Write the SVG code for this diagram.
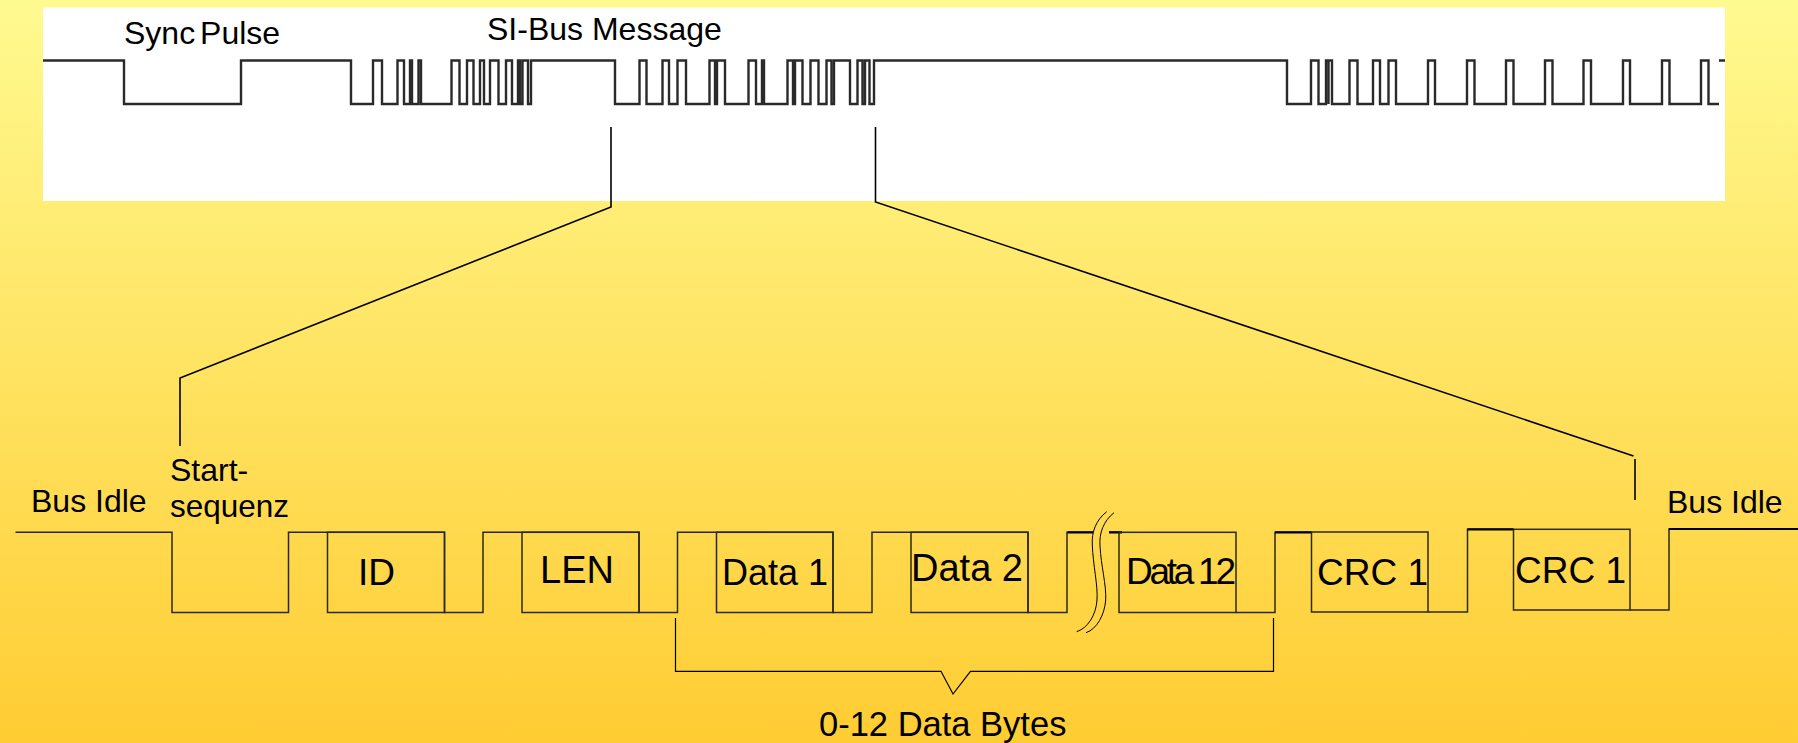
<svg xmlns="http://www.w3.org/2000/svg" width="1798" height="743" viewBox="0 0 1798 743">
<style>
text{font-family:"Liberation Sans",Arial,sans-serif;font-size:37px;fill:#000}
.s{font-size:32px}
.w{fill:none;stroke:#2a2a2a;stroke-width:2.400}
.l{fill:none;stroke:#000;stroke-width:1.600}
.b{fill:none;stroke:#2a2a1a;stroke-width:1.500}
.k{fill:none;stroke:#000;stroke-width:1.200}
.t{fill:none;stroke:#000;stroke-width:1}
</style>
<defs><linearGradient id="bg" x1="0" y1="0" x2="0" y2="1"><stop offset="0" stop-color="#FFFA90"/><stop offset="1" stop-color="#FFCC33"/></linearGradient></defs>
<rect width="1798" height="743" fill="url(#bg)"/>
<rect x="43" y="7.500" width="1682" height="193.500" fill="#fff"/>
<g id="connectors">
<path class="w" d="M43 60.500H124V104H241V60.500H351V104H373V60.500H382V104H397.500V60.500H404V104H410V60.500H412V104H418.500V60.500H421V104H451.500V60.500H459.500V104H467V60.500H473.500V104H480V60.500H484V104H490V60.500H498.500V104H506V60.500H512V104H518V60.500H520V104H522.500V60.500H528V104H531V60.500H615V104H639.500V60.500H646.500V104H662.500V60.500H669V104H677.500V60.500H686V104H709.500V60.500H715V104H717V60.500H725V104H748.500V60.500H756V104H762V60.500H764V104H787.500V60.500H793V104H795V60.500H802.500V104H810.500V60.500H818.500V104H826.500V60.500H831.500V104H834V60.500H850V104H857.500V60.500H862.500V104H865V60.500H869.500V104H874V60.500H1287V104H1311V60.500H1318.500V104H1326V60.500H1332V104H1349.500V60.500H1357.500V104H1373V60.500H1380V104H1388.500V60.500H1396V104H1428V60.500H1435V104H1467V60.500H1474.500V104H1506V60.500H1513.500V104H1545V60.500H1552.500V104H1583.500V60.500H1591V104H1623V60.500H1630V104H1662V60.500H1669.500V104H1701V60.500H1708.500V104H1719M1328.500 60.500V104M1719 60.500H1725"/>
<path class="l" d="M611 127V207L180 378V446"/>
<path class="l" d="M875.500 127V202L1633.500 456M1635 459V500"/>
<path class="b" d="M15.500 532.300H172V612.500H288.500V532.300H444.500V612.500H483V532.300H639V612.500H677.500V532.300H833V612.500H872V532.300H1028V612.500H1067V532.300H1093"/>
<path class="b" d="M1109 532.300H1122M1236 612.500H1275V532.300H1311.500M1428 612H1467.500V529.300H1513.500M1630 610H1669V529H1798"/>
<path d="M1067.500 532.300H1093M1109 532.300H1122M1275 532.300H1311.500M1467.500 529.300H1513.500M1669 529H1798" fill="none" stroke="#000" stroke-width="2.200"/>
<path class="k" d="M675.500 618V671.300H941L953 694L970.500 671.300H1273.500V618"/>
<path class="t" d="M1106.700 511.700C1096 520 1091.500 532 1092.300 545C1093 565 1098 585 1097 600C1096 615 1088 628 1076.700 631.700"/>
<path class="t" d="M1114 512.700C1103.500 521 1099 533 1100 546C1101 566 1106.500 585 1105.700 600C1104.500 615 1097 629 1086 632.700"/>
</g>
<g id="sync-pulse"><text x="124" y="44" style="font-size:32px;word-spacing:-4px">Sync Pulse</text></g>
<g id="si-bus-message"><text x="487" y="40" style="font-size:32px">SI-Bus Message</text></g>
<g id="bus-idle-left"><text class="s" x="31" y="511.500">Bus Idle</text></g>
<g id="start-sequenz"><text class="s" x="170" y="480.500">Start-</text><text x="170" y="516.500" style="font-size:31.500px">sequenz</text></g>
<g id="id"><rect class="b" x="327.500" y="532.300" width="117" height="80.200"/><text x="358" y="585">ID</text></g>
<g id="len"><rect class="b" x="522" y="532.300" width="117" height="80.200"/><text x="540" y="583" style="font-size:38px">LEN</text></g>
<g id="data-1"><rect class="b" x="716.500" y="532.300" width="116.500" height="80.200"/><text x="722" y="585" style="font-size:36px">Data 1</text></g>
<g id="data-2"><rect class="b" x="911" y="532.300" width="117" height="80.200"/><text x="911" y="581" style="font-size:38px">Data 2</text></g>
<g id="data-12"><rect class="b" x="1119" y="532.300" width="117" height="80.200"/><text x="1126" y="584" style="font-size:37px" textLength="110" lengthAdjust="spacing">Data 12</text></g>
<g id="crc-1a"><rect class="b" x="1311.500" y="532" width="116.500" height="80"/><text x="1317" y="585">CRC 1</text></g>
<g id="crc-1b"><rect class="b" x="1513.500" y="529.300" width="116.500" height="80.700"/><text x="1515" y="583">CRC 1</text></g>
<g id="bus-idle-right"><text class="s" x="1667" y="513.300">Bus Idle</text></g>
<g id="data-bytes"><text x="819" y="736" style="font-size:34.500px">0-12 Data Bytes</text></g>
</svg>
